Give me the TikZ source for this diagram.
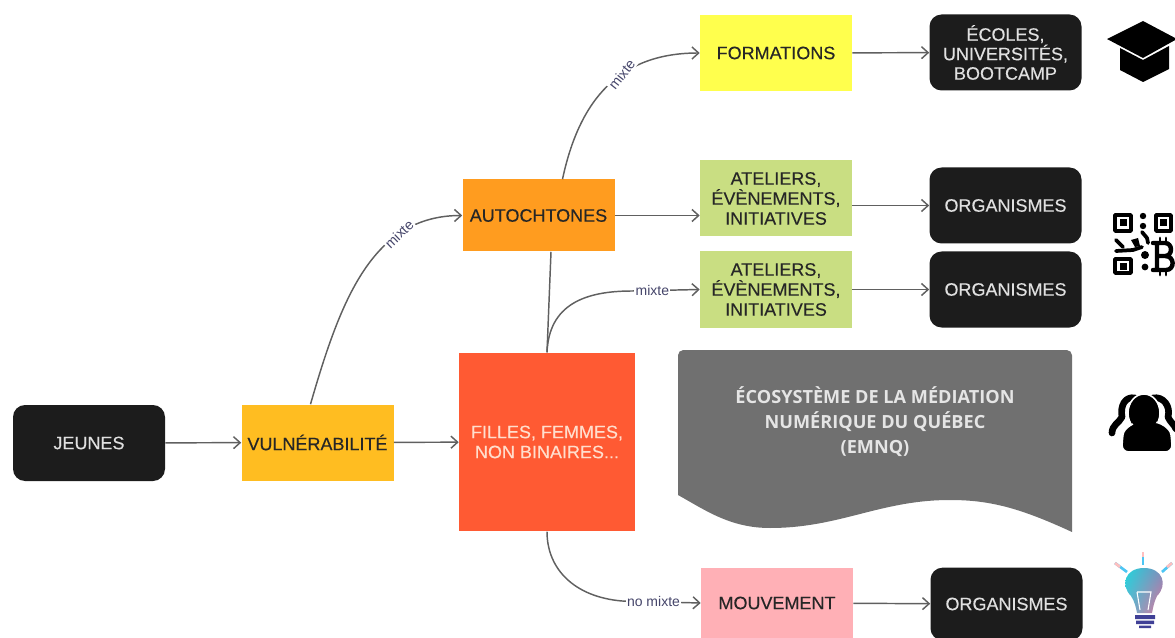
\documentclass[tikz,border=0pt]{standalone}
\usepackage{fontspec}
\setmainfont{Liberation Sans}
\newfontfamily\boxfont[FakeBold=0.25]{Liberation Sans}
\newfontfamily\opensans{Open Sans}
\usetikzlibrary{arrows.meta,calc,shadings}
\definecolor{boxblack}{HTML}{1C1C1C}
\definecolor{linegrey}{HTML}{606060}
\definecolor{labelnavy}{HTML}{45456A}
\definecolor{bulbpink}{RGB}{240,110,150}
\definecolor{bulbcyan}{RGB}{30,215,220}
\definecolor{bulbblue}{RGB}{90,180,210}
\definecolor{bulbmauve}{RGB}{120,140,190}
\tikzset{
  lbox/.style={minimum width=114pt,minimum height=57pt,inner sep=0pt,align=center,
    font=\boxfont\fontsize{13.5}{15}\selectfont,text=black!85},
  dark/.style={lbox,fill=boxblack,rounded corners=9pt,text=white!88!black},
  conn/.style={draw=linegrey,line width=1.1pt,-{Straight Barb[length=5pt,width=9pt,line width=1.1pt]}},
  plainconn/.style={draw=linegrey,line width=1.1pt},
  mixlabel/.style={fill=white,inner sep=1pt,text=labelnavy,font=\fontsize{10.5}{12}\selectfont}
}
\begin{document}
\begin{tikzpicture}[x=0.75pt,y=-0.75pt]
\useasboundingbox (0,0) rectangle (1175,638);
% boxes
\node[dark] (jeunes) at (89,443) {JEUNES};
\node[lbox,fill={rgb,255:red,255;green,189;blue,33}] (vuln) at (317.5,442.5) {VULNÉRABILITÉ};
\node[lbox,fill={rgb,255:red,255;green,90;blue,51},minimum width=132pt,minimum height=134pt,text={rgb,255:red,255;green,222;blue,205}] (filles) at (547,442) {FILLES, FEMMES,\\NON BINAIRES...};
\node[lbox,fill={rgb,255:red,255;green,156;blue,31},minimum height=54pt] (auto) at (538.5,215.5) {AUTOCHTONES};
\node[lbox,fill={rgb,255:red,255;green,255;blue,77}] (form) at (776,53) {FORMATIONS};
\node[lbox,fill={rgb,255:red,201;green,222;blue,130}] (atA) at (776,198.5) {ATELIERS,\\ÉVÈNEMENTS,\\INITIATIVES};
\node[lbox,fill={rgb,255:red,201;green,222;blue,130}] (atB) at (776,289.5) {ATELIERS,\\ÉVÈNEMENTS,\\INITIATIVES};
\node[lbox,fill={rgb,255:red,255;green,176;blue,182},minimum height=53.25pt] (mouv) at (777,603) {MOUVEMENT};
\node[dark,font=\boxfont\fontsize{13.5}{14.6}\selectfont] (ecoles) at (1005.5,52.5) {ÉCOLES,\\UNIVERSITÉS,\\BOOTCAMP};
\node[dark] (orgA) at (1005.5,205.5) {ORGANISMES};
\node[dark] (orgB) at (1005.5,289.5) {ORGANISMES};
\node[dark,minimum height=54.5pt] (orgC) at (1006.5,604) {ORGANISMES};
% wave banner
\fill[rounded corners=4pt,fill={rgb,255:red,112;green,112;blue,112}] (678,495) -- (678,350) -- (1072,350) -- (1072,450) [sharp corners] -- (1072,532)
  .. controls (1020,508) and (990,500) .. (950,500)
  .. controls (880,500) and (840,528) .. (770,528)
  .. controls (730,528) and (705,510) .. (678,495) -- cycle;
\node[align=center,text=white!90!black,font={\opensans\bfseries\fontsize{13.6}{18.7}\selectfont}] (emnq) at (875,421.5) {ÉCOSYSTÈME DE LA MÉDIATION\\NUMÉRIQUE DU QUÉBEC\\(EMNQ)};
% free bends of the connectors
\coordinate (bendB) at (632,291);
\coordinate (bendC) at (622,601);
% connectors
\draw[conn] (jeunes) -- (vuln);
\draw[conn] (vuln) -- (filles);
\draw[conn] ($(vuln.north)+(-7,0)$) .. controls +(30,-104) and ($(auto.west)+(-90,0)$) .. (auto.west) node[mixlabel,pos=.72,rotate=44] {mixte};
\draw[conn] ($(auto.north)+(24,0)$) .. controls +(17,-80) and ($(form.west)+(-80,0)$) .. (form.west) node[mixlabel,pos=.6,rotate=52] {mixte};
\draw[conn] (auto.east) -- (atA.west |- auto.east);
\draw[plainconn] (filles.north) -- (auto.south -| 551,0);
\draw[conn] (filles.north) .. controls +(2,-48) and (585,291) .. (bendB) -- (atB.west) node[mixlabel,pos=.3] {mixte};
\draw[conn] (filles.south) .. controls +(0,38) and (575,597) .. (bendC) -- (mouv.west) node[mixlabel,pos=.4] {no mixte};
\draw[conn] (form) -- (ecoles);
\draw[conn] (atA.east |- orgA.west) -- (orgA.west);
\draw[conn] (atB) -- (orgB);
\draw[conn] (mouv) -- (orgC);
% graduation cap
\fill[black] (1107,39) -- (1143,21) -- (1177,39) -- (1143,58) -- cycle;
\fill[black] (1120,48) -- (1143,60) -- (1169,46) -- (1169,69) -- (1143,82) -- (1120,70) -- cycle;
% QR code
\begin{scope}[line width=2.8pt,draw=black,line cap=round,line join=round]
\draw (1115,215) rectangle (1131,231);
\draw (1156,215) rectangle (1171,231);
\draw (1115,259) rectangle (1131,273);
\fill (1120,219.5) rectangle (1127,226.5);
\fill (1160,219.5) rectangle (1167,226.5);
\fill (1120,262.5) rectangle (1127,269.5);
\fill (1143,216) circle (3.2) (1143,226) circle (3.2) (1145,267) circle (3.4) (1145,255) circle (4);
\draw (1142,232) -- (1147,238) -- (1148,243);
\draw (1116,240) -- (1123,247);
\fill (1131,240) -- (1138,238) -- (1140,246) -- (1135,247) -- cycle;
\draw (1116,251) -- (1133,250) -- (1142,247);
% bitcoin sign
\draw[line width=3.3pt] (1157,243) -- (1157,270) -- (1166,270) .. controls (1175,270) and (1175,256) .. (1165,256) -- (1157,256) (1165,256) .. controls (1173,256) and (1173,243) .. (1165,243) -- (1153,243) (1153,270) -- (1157,270);
\draw[line width=2.2pt] (1160,238) -- (1160,243) (1166,238) -- (1166,243) (1160,270) -- (1160,275) (1166,270) -- (1166,275);
\end{scope}
% people
\begin{scope}[line cap=round,line join=round]
\draw[black,line width=5pt] (1135,398) .. controls (1125,396) and (1120,406) .. (1122,417) .. controls (1119,423) and (1112,425) .. (1112,433);
\draw[black,line width=5pt] (1153,398) .. controls (1163,396) and (1171,406) .. (1168,417) .. controls (1170,422) and (1174,424) .. (1176,429);
\filldraw[black,draw=white,line width=1.2pt] (1144,413) ellipse (16 and 19);
\filldraw[black,draw=white,line width=1.2pt,rounded corners=5pt] (1122,452) -- (1122,441) .. controls (1124,428) and (1134,422) .. (1147,422) .. controls (1160,422) and (1170,428) .. (1172,441) -- (1172,452) -- cycle;
\fill[black] (1144,413) ellipse (14.5 and 17);
\end{scope}
% light bulb
\begin{scope}
\clip (1131,596) .. controls (1120,585) and (1125,568) .. (1144,568) .. controls (1163,568) and (1168,585) .. (1157,596) .. controls (1154,602) and (1153,608) .. (1152,613) -- (1137,613) .. controls (1136,608) and (1135,602) .. (1131,596) -- cycle;
\shade[lower right=bulbpink,upper left=bulbcyan,lower left=bulbblue,upper right=bulbmauve] (1125,565) rectangle (1165,615);
\end{scope}
\draw[white,line width=.8pt] (1137,592) -- (1151,592) -- (1148,610) (1137,592) -- (1140,610);
\fill[blue!45!black!75] (1135,615) rectangle (1155,619) (1136,620.5) rectangle (1154,624) (1139,625.5) rectangle (1151,628);
\draw[line width=2pt,cyan!70] (1143,552) -- (1143,565);
\draw[line width=2pt,cyan!70] (1115,563) -- (1127,572);
\draw[line width=2pt,cyan!70] (1172,563) -- (1162,572);
\draw[line width=2pt,pink] (1143,552) -- (1143,557);
\draw[line width=2pt,pink] (1115,563) -- (1120,567);
\draw[line width=2pt,pink] (1172,563) -- (1167,567);
\end{tikzpicture}
\end{document}
